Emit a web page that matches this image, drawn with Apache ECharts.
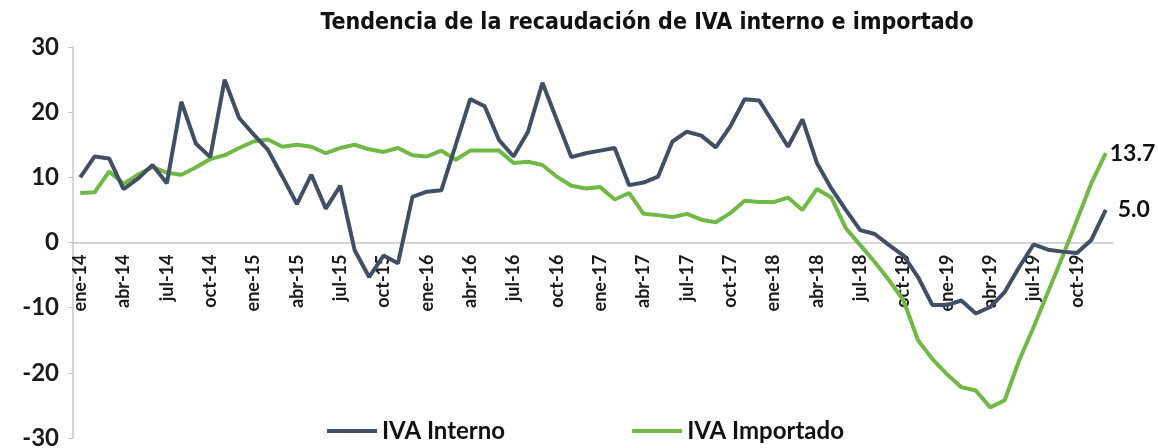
<!DOCTYPE html>
<html>
<head>
<meta charset="utf-8">
<script src="https://cdn.jsdelivr.net/npm/echarts@6/dist/echarts.min.js"></script>
<style>
  html, body { margin: 0; padding: 0; background: #fff; }
  #chart { width: 1158px; height: 448px; }
</style>
</head>
<body>
<div id="chart"></div>
<script>
// meses y años del eje de categorías
var meses = ['ene', 'feb', 'mar', 'abr', 'may', 'jun', 'jul', 'ago', 'sep', 'oct', 'nov', 'dic'];
var anios = ['14', '15', '16', '17', '18', '19'];
var categorias = [];
anios.forEach(function (a) {
    meses.forEach(function (m) { categorias.push(m + '-' + a); });
});

var ivaInterno = [
    10.0, 13.2, 12.9, 8.2, 9.8, 11.9, 9.1, 21.6, 15.2, 13.1, 25.0, 19.1,
    16.6, 14.2, 10.1, 5.9, 10.4, 5.2, 8.7, -1.2, -5.3, -2.0, -3.2, 7.0,
    7.8, 8.0, 15.0, 22.0, 20.9, 15.7, 13.2, 17.0, 24.5, 18.8, 13.1, 13.7,
    14.1, 14.5, 8.8, 9.2, 10.1, 15.5, 17.0, 16.4, 14.6, 17.8, 22.0, 21.8,
    18.3, 14.7, 18.9, 12.2, 8.3, 5.0, 1.9, 1.3, -0.4, -2.0, -5.3, -9.6,
    -9.6, -8.9, -10.9, -9.9, -7.6, -3.8, -0.3, -1.1, -1.4, -1.6, 0.4, 5.0
];
var ivaImportado = [
    7.6, 7.7, 10.9, 9.0, 10.4, 11.6, 10.7, 10.4, 11.5, 12.8, 13.4, 14.5,
    15.5, 15.8, 14.7, 15.0, 14.7, 13.7, 14.5, 15.0, 14.3, 13.9, 14.5, 13.4,
    13.2, 14.1, 12.7, 14.1, 14.1, 14.1, 12.2, 12.4, 11.9, 10.1, 8.7, 8.3,
    8.5, 6.6, 7.6, 4.4, 4.2, 3.9, 4.4, 3.5, 3.1, 4.5, 6.4, 6.2,
    6.2, 6.9, 5.0, 8.2, 6.9, 2.2, -0.4, -3.0, -5.8, -8.9, -15.0, -17.9,
    -20.2, -22.2, -22.7, -25.3, -24.2, -18.1, -13.0, -7.6, -2.2, 3.4, 9.1, 13.7
];

var myChart = echarts.init(document.getElementById('chart'));

var fuente = 'Lato, "Open Sans", sans-serif';
var altoGrid = 448 - 47 - 10; // alto del área de trazado

myChart.setOption({
    animation: false,
    title: {
        text: 'Tendencia de la recaudación de IVA interno e importado',
        left: 642,
        textAlign: 'center',
        top: 7,
        textStyle: {
            fontFamily: '"DejaVu Sans Condensed", "Liberation Sans Narrow", sans-serif',
            fontSize: 23,
            fontWeight: 'bold',
            color: '#111'
        }
    },
    legend: {
        data: ['IVA Interno', 'IVA Importado'],
        bottom: 0,
        left: 322,
        itemGap: 127,
        itemWidth: 50,
        itemHeight: 4,
        icon: 'rect',
        textStyle: {
            fontFamily: fuente,
            fontSize: 24,
            fontWeight: 'bold',
            color: '#111',
            padding: [0, 0, 0, 0]
        }
    },
    grid: {
        left: 73,
        right: 45,
        top: 47,
        bottom: 10,
        containLabel: false,
        outerBoundsMode: 'none'
    },
    xAxis: {
        type: 'category',
        data: categorias,
        boundaryGap: true,
        offset: -altoGrid / 2, // el eje se dibuja en el cero
        axisLine: { onZero: false, lineStyle: { color: '#c8c8c8', width: 1.5 } },
        axisTick: { interval: 2, length: 7, lineStyle: { color: '#c8c8c8' } },
        axisLabel: {
            interval: 2,
            rotate: 90,
            margin: 12,
            fontFamily: fuente,
            fontSize: 18,
            fontWeight: 'bold',
            color: '#1a1a1a'
        }
    },
    yAxis: {
        type: 'value',
        min: -30,
        max: 30,
        interval: 10,
        splitLine: { show: false },
        axisLine: { show: true, lineStyle: { color: '#c8c8c8', width: 1.5 } },
        axisTick: { show: true, length: 5, lineStyle: { color: '#c8c8c8' } },
        axisLabel: {
            margin: 14,
            fontFamily: fuente,
            fontSize: 24,
            fontWeight: 'bold',
            color: '#1a1a1a'
        }
    },
    series: [
        {
            name: 'IVA Interno',
            type: 'line',
            data: ivaInterno,
            symbol: 'none',
            z: 3,
            lineStyle: { color: '#414f66', width: 4 },
            itemStyle: { color: '#414f66' },
            endLabel: {
                show: true,
                distance: 12,
                formatter: function (p) { return p.value.toFixed(1); },
                fontFamily: fuente,
                fontSize: 23,
                fontWeight: 'bold',
                color: '#111'
            }
        },
        {
            name: 'IVA Importado',
            type: 'line',
            data: ivaImportado,
            symbol: 'none',
            z: 2,
            lineStyle: { color: '#70b944', width: 4 },
            itemStyle: { color: '#70b944' },
            endLabel: {
                show: true,
                distance: 4,
                formatter: function (p) { return p.value.toFixed(1); },
                fontFamily: fuente,
                fontSize: 23,
                fontWeight: 'bold',
                color: '#111'
            }
        }
    ]
});
</script>
</body>
</html>
